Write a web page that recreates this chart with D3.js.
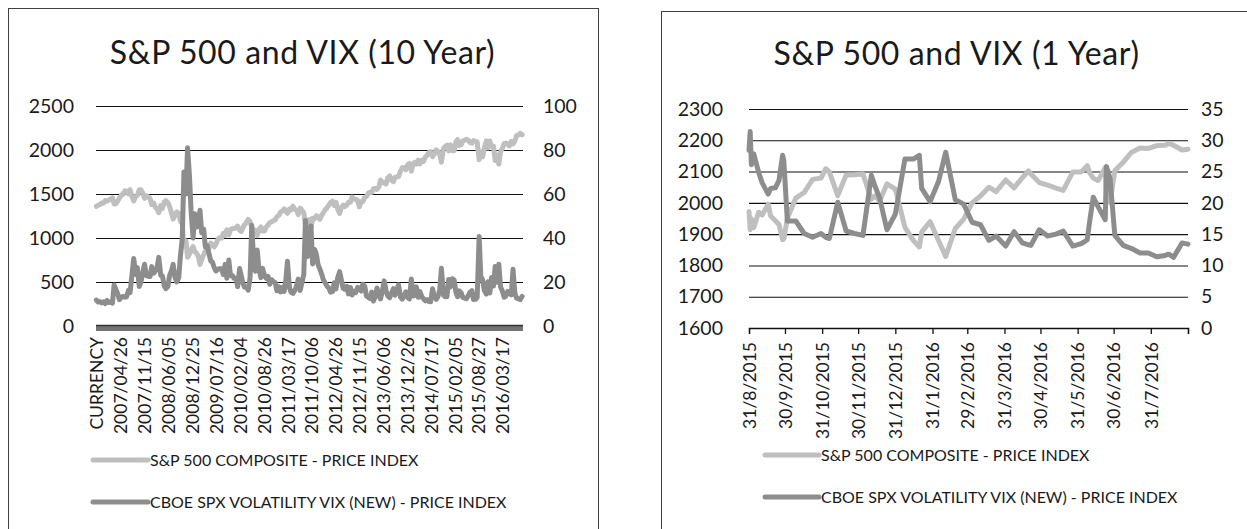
<!DOCTYPE html>
<html>
<head>
<meta charset="utf-8">
<script src="https://cdn.jsdelivr.net/npm/d3@7"></script>
<style>
  body { margin: 0; background: #fff; }
  svg { display: block; }
  text { font-family: Lato, "Open Sans", sans-serif; fill: #1a1a1a; }
</style>
</head>
<body>
<svg id="chart" width="1247" height="529"></svg>
<script>
// ---------------- DATA ----------------
// 10-year chart: semi-monthly samples (1st & 15th) from Oct 2006 to Sep 2016
const titles = ["S&P 500 and VIX (10 Year)", "S&P 500 and VIX (1 Year)"];
const seriesNames = ["S&P 500 COMPOSITE - PRICE INDEX", "CBOE SPX VOLATILITY VIX (NEW) - PRICE INDEX"];

const spx10 = [
  1360, 1372, 1380, 1398, 1396, 1425,                                                   // 2006 Oct-Dec
  1418, 1431, 1445, 1456, 1387, 1387, 1420, 1452, 1486, 1497, 1536, 1533,
  1503, 1549, 1465, 1420, 1473, 1484, 1547, 1548, 1508, 1451, 1481, 1468,               // 2007
  1447, 1380, 1395, 1349, 1330, 1288, 1370, 1334, 1409, 1424, 1400, 1360,
  1284, 1214, 1260, 1298, 1282, 1192, 1161, 907, 968, 780, 816, 868,                    // 2008
  903, 843, 826, 790, 700, 756, 811, 852, 877, 882, 942, 923,
  900, 932, 987, 1004, 998, 1052, 1029, 1092, 1036, 1093, 1109, 1107,                   // 2009
  1115, 1136, 1089, 1075, 1115, 1150, 1178, 1211, 1186, 1120, 1070, 1089,
  1027, 1095, 1125, 1079, 1080, 1125, 1146, 1176, 1184, 1198, 1206, 1242,               // 2010
  1258, 1293, 1307, 1332, 1306, 1281, 1332, 1320, 1361, 1329, 1314, 1266,
  1339, 1316, 1286, 1150, 1204, 1209, 1110, 1224, 1218, 1251, 1244, 1212,               // 2011
  1258, 1289, 1324, 1344, 1374, 1402, 1419, 1370, 1405, 1330, 1278, 1342,
  1374, 1356, 1375, 1405, 1406, 1465, 1444, 1440, 1427, 1353, 1416, 1413,               // 2012
  1462, 1472, 1513, 1519, 1518, 1560, 1562, 1552, 1582, 1658, 1631, 1626,
  1614, 1682, 1706, 1661, 1640, 1688, 1695, 1698, 1761, 1798, 1800, 1775,               // 2013
  1831, 1848, 1760, 1838, 1859, 1841, 1885, 1842, 1883, 1870, 1924, 1937,
  1973, 1981, 1925, 1955, 2003, 1985, 1946, 1862, 2018, 2039, 2054, 1990,               // 2014
  2058, 1992, 1995, 2096, 2117, 2053, 2059, 2106, 2108, 2122, 2111, 2084,
  2077, 2108, 2098, 2092, 1890, 1978, 1923, 2023, 2104, 2023, 2102, 2043,               // 2015
  2044, 1880, 1939, 1840, 1978, 2015, 2072, 2080, 2065, 2047, 2099, 2071,
  2102, 2161, 2173, 2190, 2175                                                          // 2016 Jan-Sep
];

const vix10 = [
  11.8, 10.9, 11.1, 10.5, 11.0, 10.2,                                                   // 2006 Oct-Dec
  11.6, 10.7, 10.9, 10.4, 18.6, 16.8, 14.6, 12.0, 13.0, 13.5, 13.1, 13.3,
  16.2, 15.2, 23.7, 30.7, 23.4, 26.5, 18.0, 20.0, 24.5, 28.1, 22.9, 22.6,               // 2007
  22.5, 27.0, 24.0, 25.0, 26.5, 31.2, 23.0, 22.8, 18.2, 17.0, 18.0, 23.0,
  25.0, 28.0, 22.0, 20.0, 22.0, 31.7, 39.8, 70.0, 60.0, 81.0, 68.5, 52.4,               // 2008
  40.0, 51.0, 45.0, 47.0, 52.6, 42.4, 44.0, 36.0, 36.5, 33.1, 29.5, 29.0,
  26.4, 25.0, 25.9, 26.0, 26.0, 23.4, 28.0, 21.7, 30.0, 22.9, 23.0, 21.7,               // 2009
  21.7, 17.9, 26.1, 22.7, 19.5, 17.6, 17.5, 16.3, 22.0, 45.8, 29.0, 24.9,
  34.5, 26.0, 22.0, 26.2, 23.0, 21.7, 22.5, 19.0, 21.0, 20.2, 19.7, 16.0,               // 2010
  17.8, 15.5, 17.6, 15.7, 20.7, 29.4, 17.4, 15.3, 14.8, 16.0, 18.3, 21.3,
  16.1, 19.5, 23.4, 48.0, 31.6, 33.0, 45.5, 28.2, 34.8, 32.8, 27.8, 26.0,               // 2011
  23.4, 20.9, 19.4, 18.1, 17.3, 15.4, 15.6, 19.6, 16.9, 21.9, 24.7, 21.1,
  17.1, 16.7, 18.0, 14.6, 17.5, 14.1, 15.7, 15.2, 17.6, 17.0, 15.9, 19.0,               // 2012
  18.0, 13.6, 12.9, 12.5, 15.4, 11.3, 13.6, 17.3, 13.6, 12.3, 16.3, 20.5,
  16.0, 13.8, 12.9, 14.7, 17.0, 14.0, 16.6, 18.7, 13.1, 12.2, 13.7, 15.5,               // 2013
  13.0, 12.3, 21.4, 13.6, 14.0, 17.8, 13.1, 15.6, 13.3, 12.4, 11.4, 12.0,
  11.1, 11.0, 16.9, 13.1, 12.1, 13.3, 16.7, 26.3, 14.0, 13.3, 13.3, 21.1,               // 2014
  17.8, 21.5, 20.9, 15.4, 13.3, 16.0, 15.1, 13.0, 12.7, 12.4, 13.8, 15.4,
  16.1, 12.0, 12.1, 13.0, 40.7, 22.5, 20.9, 16.1, 14.5, 20.1, 15.0, 22.0,               // 2015
  18.2, 27.0, 19.9, 28.1, 17.7, 16.1, 13.1, 13.6, 15.7, 14.7, 14.2, 25.8,
  14.8, 12.7, 12.4, 12.0, 13.5                                                          // 2016 Jan-Sep
];

const tickLabels10 = ["CURRENCY", "2007/04/26", "2007/11/15", "2008/06/05", "2008/12/25", "2009/07/16",
  "2010/02/04", "2010/08/26", "2011/03/17", "2011/10/06", "2012/04/26", "2012/11/15", "2013/06/06",
  "2013/12/26", "2014/07/17", "2015/02/05", "2015/08/27", "2016/03/17"];
const tickDates10 = ["2006-09-28", "2007-04-26", "2007-11-15", "2008-06-05", "2008-12-25", "2009-07-16",
  "2010-02-04", "2010-08-26", "2011-03-17", "2011-10-06", "2012-04-26", "2012-11-15", "2013-06-06",
  "2013-12-26", "2014-07-17", "2015-02-05", "2015-08-27", "2016-03-17"];
const leftTicks10 = [0, 500, 1000, 1500, 2000, 2500];
const rightTicks10 = [0, 20, 40, 60, 80, 100];

// 1-year chart
const dates1 = [
  "2015-08-31","2015-09-01","2015-09-02","2015-09-04","2015-09-08","2015-09-11","2015-09-16","2015-09-18",
  "2015-09-22","2015-09-25","2015-09-28","2015-09-29","2015-10-02","2015-10-09","2015-10-16","2015-10-23",
  "2015-10-30","2015-11-03","2015-11-06","2015-11-13","2015-11-20","2015-11-27","2015-12-04","2015-12-11",
  "2015-12-14","2015-12-18","2015-12-24","2015-12-31","2016-01-08","2016-01-15","2016-01-20","2016-01-22",
  "2016-01-29","2016-02-05","2016-02-11","2016-02-19","2016-02-26","2016-03-04","2016-03-11","2016-03-18",
  "2016-03-24","2016-04-01","2016-04-08","2016-04-15","2016-04-20","2016-04-22","2016-04-29","2016-05-06",
  "2016-05-13","2016-05-19","2016-05-27","2016-06-03","2016-06-08","2016-06-10","2016-06-13","2016-06-17",
  "2016-06-23","2016-06-24","2016-06-27","2016-07-01","2016-07-08","2016-07-15","2016-07-22","2016-07-29",
  "2016-08-05","2016-08-12","2016-08-15","2016-08-19","2016-08-26","2016-08-31"
];
const spx1 = [
  1972, 1914, 1949, 1921, 1970, 1961, 1996, 1958,
  1943, 1931, 1882, 1884, 1951, 2015, 2033, 2075,
  2079, 2109, 2099, 2023, 2089, 2090, 2092, 2012,
  2022, 2006, 2061, 2044, 1922, 1880, 1859, 1907,
  1940, 1880, 1829, 1918, 1948, 2000, 2022, 2050,
  2036, 2073, 2048, 2081, 2102, 2092, 2065, 2057,
  2047, 2040, 2099, 2099, 2119, 2096, 2079, 2071,
  2113, 2037, 2001, 2103, 2130, 2162, 2175, 2174,
  2183, 2184, 2190, 2184, 2169, 2171
];
const vix1 = [
  28.4, 31.4, 26.1, 27.8, 24.9, 23.2, 21.4, 22.3,
  22.4, 23.6, 27.6, 26.8, 17.1, 17.1, 15.1, 14.5,
  15.1, 14.5, 14.3, 20.1, 15.5, 15.1, 14.8, 24.4,
  22.7, 20.7, 15.7, 18.2, 27.0, 27.0, 27.6, 22.3,
  20.2, 23.4, 28.1, 20.5, 19.8, 16.9, 16.5, 14.0,
  14.7, 13.1, 15.4, 13.6, 13.3, 13.2, 15.7, 14.7,
  15.0, 15.5, 13.1, 13.5, 14.1, 17.0, 20.9, 19.4,
  17.3, 25.8, 23.9, 14.8, 13.2, 12.7, 12.0, 12.0,
  11.4, 11.6, 11.8, 11.3, 13.6, 13.4
];
const tickLabels1 = ["31/8/2015", "30/9/2015", "31/10/2015", "30/11/2015", "31/12/2015", "31/1/2016",
  "29/2/2016", "31/3/2016", "30/4/2016", "31/5/2016", "30/6/2016", "31/7/2016", ""];
const tickDates1 = ["2015-08-31", "2015-09-30", "2015-10-31", "2015-11-30", "2015-12-31", "2016-01-31",
  "2016-02-29", "2016-03-31", "2016-04-30", "2016-05-31", "2016-06-30", "2016-07-31", "2016-08-31"];
const leftTicks1 = [1600, 1700, 1800, 1900, 2000, 2100, 2200, 2300];
const rightTicks1 = [0, 5, 10, 15, 20, 25, 30, 35];

// ---------------- DRAWING ----------------
const parse = d3.timeParse("%Y-%m-%d");
const fmt = d3.format("d");
const COL_SPX = "#bfbfbf", COL_VIX = "#8d8d8d";
const svg = d3.select("#chart");

// semi-monthly sample dates for the 10-year series
const months = d3.timeMonth.range(new Date(2006, 9, 1), new Date(2016, 8, 1));
const dates10 = [];
months.forEach(m => { dates10.push(m); dates10.push(new Date(m.getFullYear(), m.getMonth(), 15)); });
dates10.push(new Date(2016, 8, 1));

// panel frames
svg.append("rect").attr("x", 8.5).attr("y", 8.5).attr("width", 590).attr("height", 560)
  .attr("fill", "none").attr("stroke", "#404040").attr("stroke-width", 1);
svg.append("rect").attr("x", 661.5).attr("y", 11.5).attr("width", 620).attr("height", 560)
  .attr("fill", "none").attr("stroke", "#404040").attr("stroke-width", 1);

function styleAxis(g, size) {
  g.select(".domain").remove();
  g.selectAll("text").style("font-size", size + "px").attr("fill", "#1a1a1a");
}

function legend(x0, x1, y, color, label) {
  svg.append("line").attr("x1", x0).attr("x2", x1).attr("y1", y).attr("y2", y)
    .attr("stroke", color).attr("stroke-width", 5).attr("stroke-linecap", "round");
  svg.append("text").attr("x", x1 + 2).attr("y", y).attr("dy", "0.36em")
    .style("font-size", "16px").text(label);
}

function title(x, y, label) {
  svg.append("text").attr("x", x).attr("y", y).attr("text-anchor", "middle")
    .style("font-size", "32px").style("letter-spacing", "0.6px").text(label);
}

// ===== LEFT: 10 year =====
{
  const x = d3.scaleTime().domain([parse("2006-09-28"), parse("2016-09-08")]).range([96, 523]);
  const yL = d3.scaleLinear().domain([0, 2500]).range([326, 106]);
  const yR = d3.scaleLinear().domain([0, 100]).range([326, 106]);

  title(302.5, 64, titles[0]);

  const gl = svg.append("g").attr("transform", "translate(96,0)")
    .call(d3.axisLeft(yL).tickValues(leftTicks10).tickFormat(fmt).tickSize(-(523 - 96)).tickPadding(22));
  styleAxis(gl, 19.5);
  gl.selectAll(".tick line").attr("stroke", "#111").attr("stroke-width", 1.1);

  const gr = svg.append("g").attr("transform", "translate(523,0)")
    .call(d3.axisRight(yR).tickValues(rightTicks10).tickFormat(fmt).tickSize(0).tickPadding(20));
  styleAxis(gr, 19.5);

  // thick base band at zero
  svg.append("rect").attr("x", 96).attr("width", 523 - 96).attr("y", yL(0) - 1).attr("height", 6)
    .attr("fill", "#737373");
  svg.append("line").attr("x1", 96).attr("x2", 523).attr("y1", yL(0) - 0.5).attr("y2", yL(0) - 0.5)
    .attr("stroke", "#333").attr("stroke-width", 1.5);

  const gx = svg.append("g").attr("transform", `translate(0,${yL(0)})`)
    .call(d3.axisBottom(x).tickValues(tickDates10.map(parse)).tickSize(0)
      .tickFormat((d, i) => tickLabels10[i]));
  styleAxis(gx, 17.5);
  gx.selectAll("text").attr("transform", "rotate(-90)").attr("text-anchor", "end")
    .attr("x", -11).attr("y", 0).attr("dy", "0.36em");

  const lineS = d3.line().x((d, i) => x(dates10[i])).y(d => yL(d));
  const lineV = d3.line().x((d, i) => x(dates10[i])).y(d => yR(d));
  svg.append("path").datum(spx10).attr("d", lineS).attr("fill", "none").attr("stroke", COL_SPX)
    .attr("stroke-width", 5).attr("stroke-linejoin", "round").attr("stroke-linecap", "round");
  svg.append("path").datum(vix10).attr("d", lineV).attr("fill", "none").attr("stroke", COL_VIX)
    .attr("stroke-width", 5).attr("stroke-linejoin", "round").attr("stroke-linecap", "round");

  legend(93, 148, 460, COL_SPX, seriesNames[0]);
  legend(93, 148, 502, COL_VIX, seriesNames[1]);
}

// ===== RIGHT: 1 year =====
{
  const d1 = dates1.map(parse);
  const x = d3.scaleTime().domain([parse("2015-08-31"), parse("2016-08-31")]).range([749, 1188]);
  const yL = d3.scaleLinear().domain([1600, 2300]).range([328, 109]);
  const yR = d3.scaleLinear().domain([0, 35]).range([328, 109]);

  title(956.5, 65, titles[1]);

  const gl = svg.append("g").attr("transform", "translate(749,0)")
    .call(d3.axisLeft(yL).tickValues(leftTicks1).tickFormat(fmt).tickSize(-(1188 - 749)).tickPadding(26));
  styleAxis(gl, 19.5);
  gl.selectAll(".tick line").attr("stroke", "#111").attr("stroke-width", 1.1);

  const gr = svg.append("g").attr("transform", "translate(1188,0)")
    .call(d3.axisRight(yR).tickValues(rightTicks1).tickFormat(fmt).tickSize(0).tickPadding(13));
  styleAxis(gr, 19.5);

  const gx = svg.append("g").attr("transform", `translate(0,${yL(1600)})`)
    .call(d3.axisBottom(x).tickValues(tickDates1.map(parse)).tickSize(6)
      .tickFormat((d, i) => tickLabels1[i]));
  gx.select(".domain").attr("stroke", "#111").attr("stroke-width", 1.3);
  gx.selectAll(".tick line").attr("stroke", "#111").attr("stroke-width", 1.3);
  gx.selectAll("text").style("font-size", "17.5px").attr("fill", "#1a1a1a")
    .attr("transform", "rotate(-90)").attr("text-anchor", "end")
    .attr("x", -14).attr("y", 0).attr("dy", "0.36em");

  const lineS = d3.line().x((d, i) => x(d1[i])).y(d => yL(d));
  const lineV = d3.line().x((d, i) => x(d1[i])).y(d => yR(d));
  svg.append("path").datum(spx1).attr("d", lineS).attr("fill", "none").attr("stroke", COL_SPX)
    .attr("stroke-width", 5).attr("stroke-linejoin", "round").attr("stroke-linecap", "round");
  svg.append("path").datum(vix1).attr("d", lineV).attr("fill", "none").attr("stroke", COL_VIX)
    .attr("stroke-width", 5).attr("stroke-linejoin", "round").attr("stroke-linecap", "round");

  legend(765, 819, 455, COL_SPX, seriesNames[0]);
  legend(765, 819, 497, COL_VIX, seriesNames[1]);
}
</script>
</body>
</html>
